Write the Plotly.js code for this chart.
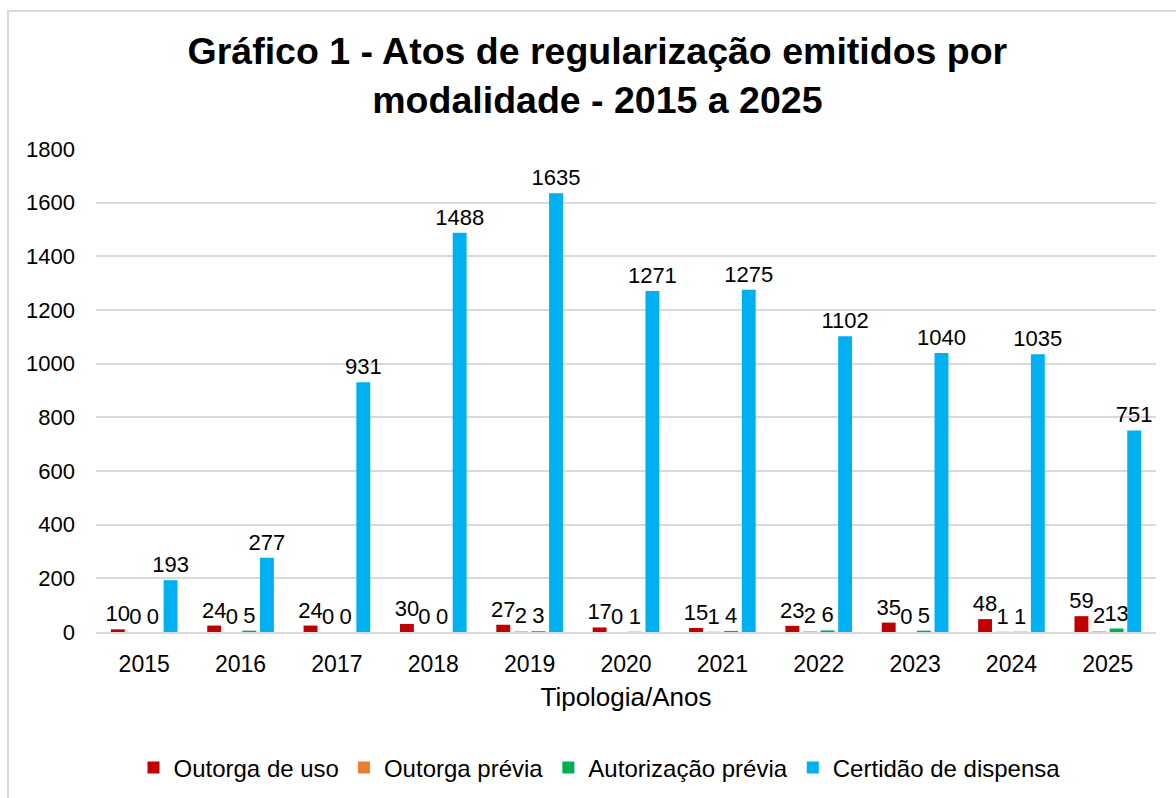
<!DOCTYPE html>
<html>
<head>
<meta charset="utf-8">
<script src="https://cdn.plot.ly/plotly-3.0.1.min.js"></script>
<style>
html,body{margin:0;padding:0;background:#fff;overflow:hidden;}
#frame{position:absolute;left:7px;top:10px;width:1300px;height:1000px;border:2px solid #d9d9d9;box-sizing:border-box;}
#chart{position:absolute;left:0;top:0;width:1176px;height:798px;}
</style>
</head>
<body>
<div id="frame"></div>
<div id="chart"></div>
<script>
const years = ['2015','2016','2017','2018','2019','2020','2021','2022','2023','2024','2025'];
const outorgaUso = [10,24,24,30,27,17,15,23,35,48,59];
const outorgaPrevia = [0,0,0,0,2,0,1,2,0,1,2];
const autorizacaoPrevia = [0,5,0,0,3,1,4,6,5,1,13];
const certidaoDispensa = [193,277,931,1488,1635,1271,1275,1102,1040,1035,751];
const yTicks = [0,200,400,600,800,1000,1200,1400,1600,1800];

const FONT = 'Liberation Sans, Arial, sans-serif';
function series(name, vals, color){
  return {
    type:'bar', name:name, x:years, y:vals,
    marker:{color:color},
    text: vals.map(String), textposition:'outside',
    textfont:{family:FONT, size:22, color:'#000'},
    constraintext:'none', cliponaxis:false,
    hoverinfo:'x+y+name'
  };
}
const data = [
  series('Outorga de uso', outorgaUso, '#c00000'),
  series('Outorga prévia', outorgaPrevia, '#ed7d31'),
  series('Autorização prévia', autorizacaoPrevia, '#00b050'),
  series('Certidão de dispensa', certidaoDispensa, '#00b0f0')
];
const layout = {
  width:1176, height:798,
  paper_bgcolor:'rgba(0,0,0,0)', plot_bgcolor:'rgba(0,0,0,0)',
  margin:{l:96, r:20, t:149, b:166},
  barmode:'group', bargap:0.27, bargroupgap:0.21,
  font:{family:FONT, color:'#000'},
  title:{text:'<b>Gráfico 1 - Atos de regularização emitidos por<br>modalidade - 2015 a 2025</b>',
    font:{family:FONT, size:37.5, color:'#000'}, x:0.508, xanchor:'center', yref:'container', y:0.92, yanchor:'top'},
  xaxis:{
    type:'category',
    showline:true, linecolor:'#d9d9d9', linewidth:2, ticks:'',
    tickfont:{family:FONT, size:23, color:'#000'}, ticklabelstandoff:10,
    title:{text:'Tipologia/Anos', font:{family:FONT, size:26, color:'#000'}, standoff:12}
  },
  yaxis:{
    range:[0,1800], tickvals:yTicks, ticktext:yTicks.map(String),
    showgrid:true, gridcolor:'#d9d9d9', gridwidth:2, zeroline:false,
    tickfont:{family:FONT, size:22, color:'#000'}, ticklen:0, ticks:'', ticklabelstandoff:20
  },
  showlegend:true,
  legend:{orientation:'h', x:0.475, xanchor:'center', yref:'container', y:0.0376, yanchor:'middle',
    font:{family:FONT, size:24, color:'#000'}, itemwidth:30, tracegroupgap:0,
    traceorder:'normal'}
};
Plotly.newPlot('chart', data, layout, {displayModeBar:false, staticPlot:true});
</script>
</body>
</html>
